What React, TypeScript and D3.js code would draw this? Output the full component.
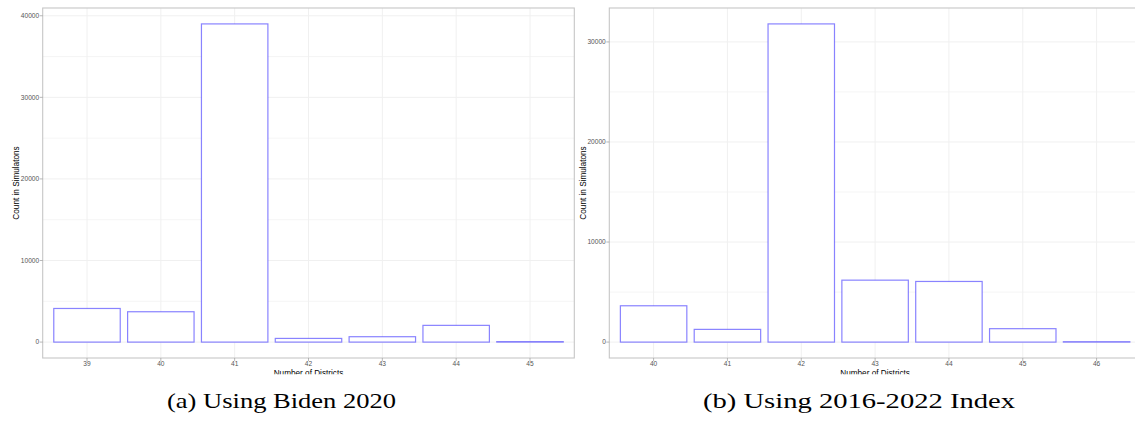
import React from "react";
import * as d3 from "d3";

const districtsA = ["39", "40", "41", "42", "43", "44", "45"];
const countsA = [4120, 3720, 39000, 450, 660, 2050, 60];
const districtsB = ["40", "41", "42", "43", "44", "45", "46"];
const countsB = [3630, 1270, 31800, 6190, 6060, 1340, 40];
const yTicksA = [0, 10000, 20000, 30000, 40000];
const yTicksB = [0, 10000, 20000, 30000];
const captionA = "(a) Using Biden 2020";
const captionB = "(b) Using 2016-2022 Index";
const xTitle = "Number of Districts";
const yTitle = "Count in Simulatons";

const W = 1135;
const H = 423;
const TOP = 8;
const BOTTOM = 358;
const BAR = "rgba(40,30,255,0.55)";
const GRID = "#f0f0f0";
const BORDER = "#c6c6c6";
const TICKTXT = "#555";

type PanelProps = {
  cats: string[];
  vals: number[];
  ticks: number[];
  x0: number;
  x1: number;
  yTitleX: number;
  caption: string;
  captionX: number;
  captionW: number;
  clipId: string;
};

function Panel({ cats, vals, ticks, x0, x1, yTitleX, caption, captionX, captionW, clipId }: PanelProps) {
  const maxV = d3.max(vals) as number;
  const pad = maxV * 0.05;
  const y = d3.scaleLinear().domain([-pad, maxV + pad]).range([BOTTOM, TOP]);
  const x = d3.scaleBand<string>().domain(cats).range([x0, x1]).paddingInner(0.1).paddingOuter(0.15);
  const minor: number[] = [];
  for (let i = 0; i < ticks.length; i++) {
    const v = ticks[i] + 5000;
    if (y(v) > TOP) minor.push(v);
  }
  const centers = cats.map((c) => (x(c) as number) + x.bandwidth() / 2);
  const font = "'Liberation Sans', Arial, sans-serif";
  return (
    <g>
      <clipPath id={clipId}>
        <rect x={x0} y={TOP} width={x1 - x0} height={BOTTOM - TOP} />
      </clipPath>
      <g clipPath={`url(#${clipId})`}>
        {minor.map((v) => (
          <line key={"mi" + v} x1={x0} x2={x1} y1={y(v)} y2={y(v)} stroke={GRID} strokeWidth={0.7} />
        ))}
        {ticks.map((v) => (
          <line key={"ma" + v} x1={x0} x2={x1} y1={y(v)} y2={y(v)} stroke={GRID} strokeWidth={1} />
        ))}
        {centers.map((cx, i) => (
          <line key={"vx" + i} x1={cx} x2={cx} y1={TOP} y2={BOTTOM} stroke={GRID} strokeWidth={1} />
        ))}
        {cats.map((c, i) => (
          <rect
            key={"b" + c}
            x={x(c) as number}
            width={x.bandwidth()}
            y={y(vals[i])}
            height={Math.max(y(0) - y(vals[i]), 0.01)}
            fill="white"
            stroke={BAR}
            strokeWidth={1.2}
          />
        ))}
      </g>
      <rect x={x0} y={TOP} width={x1 - x0} height={BOTTOM - TOP} fill="none" stroke={BORDER} strokeWidth={1.1} />
      {ticks.map((v) => (
        <g key={"yt" + v}>
          <line x1={x0 - 3} x2={x0} y1={y(v)} y2={y(v)} stroke="#999" strokeWidth={0.7} />
          <text x={x0 - 3.5} y={y(v)} dy="0.35em" textAnchor="end" fontSize={6.6} fill={TICKTXT} fontFamily={font}>
            {v}
          </text>
        </g>
      ))}
      {cats.map((c, i) => (
        <g key={"xt" + c}>
          <line x1={centers[i]} x2={centers[i]} y1={BOTTOM} y2={BOTTOM + 3} stroke="#999" strokeWidth={0.7} />
          <text x={centers[i]} y={BOTTOM + 8} textAnchor="middle" fontSize={6.6} fill={TICKTXT} fontFamily={font}>
            {c}
          </text>
        </g>
      ))}
      <text
        x={(x0 + x1) / 2}
        y={375.5}
        textAnchor="middle"
        fontSize={8.2}
        fill="#000"
        fontFamily={font}
        clipPath="url(#xtclip)"
      >
        {xTitle}
      </text>
      <text
        transform={`translate(${yTitleX},${(TOP + BOTTOM) / 2}) rotate(-90)`}
        textAnchor="middle"
        fontSize={8.2}
        fill="#000"
        fontFamily={font}
      >
        {yTitle}
      </text>
      <text
        x={captionX}
        y={408}
        fontSize={21.5}
        fill="#000"
        fontFamily="'Liberation Serif', 'Times New Roman', serif"
        textLength={captionW}
        lengthAdjust="spacingAndGlyphs"
      >
        {caption}
      </text>
    </g>
  );
}

export default function App() {
  return (
    <svg
      width={W}
      height={H}
      viewBox={`0 0 ${W} ${H}`}
      style={{ position: "absolute", left: 0, top: 0, background: "white" }}
    >
      <rect x={0} y={0} width={W} height={H} fill="white" />
      <defs>
        <clipPath id="xtclip" clipPathUnits="userSpaceOnUse">
          <rect x={0} y={0} width={W} height={374.3} />
        </clipPath>
      </defs>
      <Panel
        cats={districtsA}
        vals={countsA}
        ticks={yTicksA}
        x0={42.7}
        x1={574.3}
        yTitleX={19}
        caption={captionA}
        captionX={167}
        captionW={229}
        clipId="pa"
      />
      <Panel
        cats={districtsB}
        vals={countsB}
        ticks={yTicksB}
        x0={609.3}
        x1={1140.9}
        yTitleX={585.5}
        caption={captionB}
        captionX={703}
        captionW={312}
        clipId="pb"
      />
    </svg>
  );
}
